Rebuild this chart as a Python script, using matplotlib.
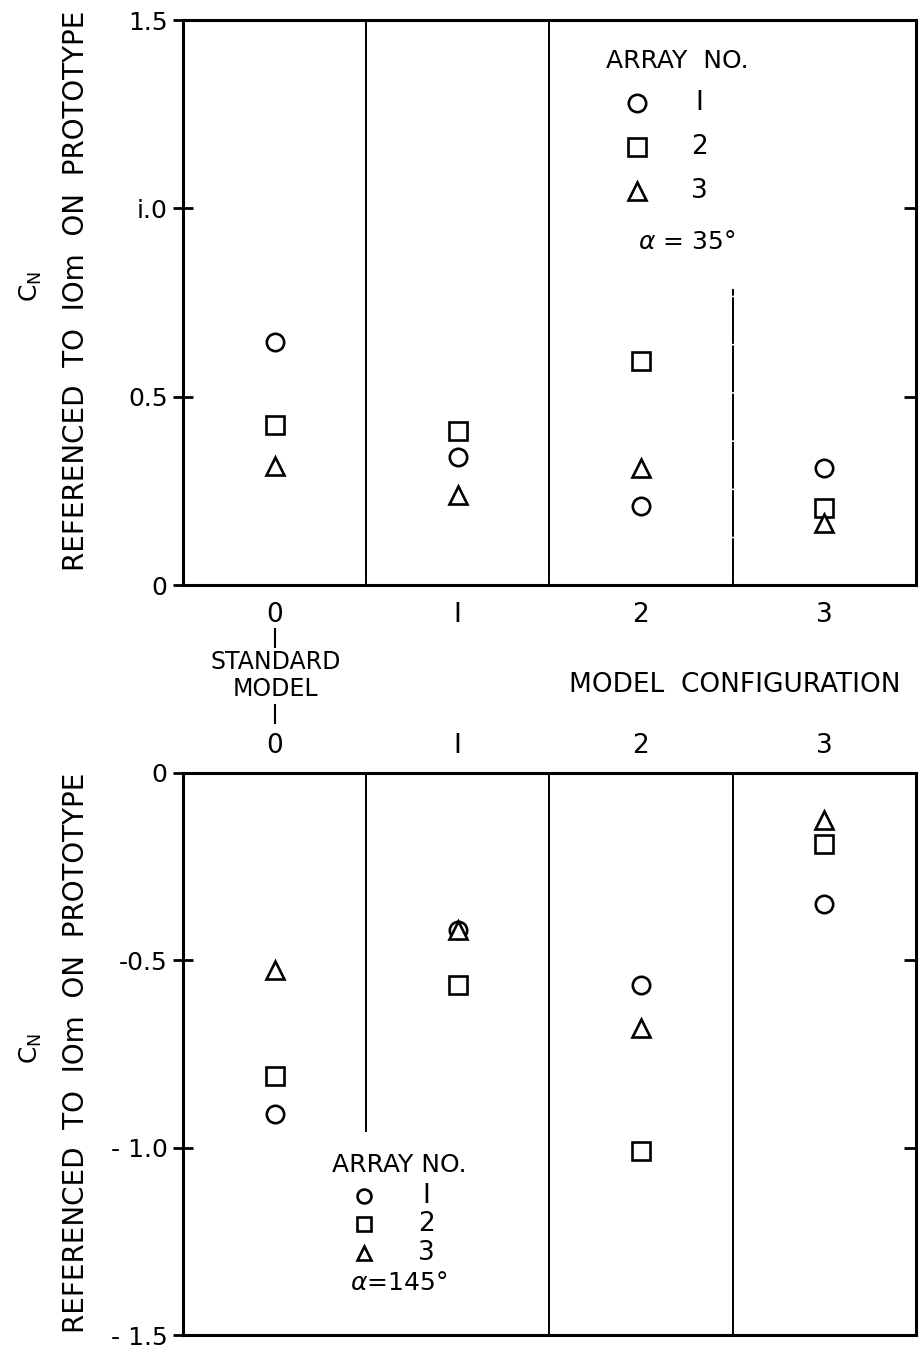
import numpy as np
import matplotlib.pyplot as plt
from matplotlib.lines import Line2D

# configurations and tick labels
configs = [0, 1, 2, 3]
config_labels = ["0", "I", "2", "3"]
array_labels = ["I", "2", "3"]

# C_N values, alpha = 35 deg (array 1, 2, 3)
cn35_a1 = [0.645, 0.34, 0.21, 0.31]
cn35_a2 = [0.425, 0.41, 0.595, 0.205]
cn35_a3 = [0.315, 0.24, 0.31, 0.165]

# C_N values, alpha = 145 deg
cn145_a1 = [-0.91, -0.42, -0.565, -0.35]
cn145_a2 = [-0.81, -0.565, -1.01, -0.19]
cn145_a3 = [-0.525, -0.42, -0.68, -0.125]

yt_top = [0, 0.5, 1.0, 1.5]
yt_top_lbl = ["0", "0.5", "i.0", "1.5"]
yt_bot = [0, -0.5, -1.0, -1.5]
yt_bot_lbl = ["0", "-0.5", "- 1.0", "- 1.5"]

plt.rcParams.update({
    "font.family": ["DejaVu Sans"],
    "axes.linewidth": 2.2,
})

markers = ["o", "s", "^"]
mk = dict(linestyle="none", markersize=12.5, markerfacecolor="white",
          markeredgecolor="black", markeredgewidth=1.9, zorder=5)

fig = plt.figure(figsize=(9.24, 13.53), dpi=100)
ax1 = fig.add_axes([0.198, 0.5676, 0.793, 0.4176])
ax2 = fig.add_axes([0.198, 0.0133, 0.793, 0.4154])

tick_fs = 18

def setup(ax, yt, ytl, ylim):
    ax.set_xlim(-0.5, 3.5)
    ax.set_ylim(*ylim)
    ax.set_yticks(yt)
    ax.set_yticklabels(ytl, fontsize=tick_fs)
    ax.tick_params(axis="y", direction="inout", length=14, width=2, pad=4)
    ax.tick_params(axis="x", length=0, labelsize=tick_fs + 1)
    sec = ax.secondary_yaxis("right")
    sec.set_yticks(yt[1:-1])
    sec.tick_params(direction="in", length=9, width=2, labelright=False)
    sec.spines["right"].set_visible(False)

# top panel
setup(ax1, yt_top, yt_top_lbl, (0, 1.5))
ax1.set_xticks(configs)
ax1.set_xticklabels(config_labels)
ax1.tick_params(axis="x", pad=12)
for xd in [0.5, 1.5]:
    ax1.axvline(xd, color="black", lw=1.4)
ax1.axvline(2.5, ymin=0, ymax=0.785 / 1.5, color="black", lw=1.4,
            linestyle=(0, (24, 0.8)))
for vals, m in zip([cn35_a1, cn35_a2, cn35_a3], markers):
    ax1.plot(configs, vals, marker=m, **mk)

# legend top
ax1.text(2.2, 1.39, "ARRAY  NO.", ha="center", va="center", fontsize=18)
for i, (m, lab) in enumerate(zip(markers, array_labels)):
    yy = 1.28 - i * 0.117
    ax1.plot([1.98], [yy], marker=m, **mk)
    ax1.text(2.32, yy, lab, ha="center", va="center", fontsize=19)
ax1.text(2.25, 0.91, r"$\alpha$ = 35°", ha="center", va="center", fontsize=18)

# bottom panel
setup(ax2, yt_bot, yt_bot_lbl, (-1.5, 0))
ax2.xaxis.tick_top()
ax2.set_xticks(configs)
ax2.set_xticklabels(config_labels)
ax2.tick_params(axis="x", pad=10)
ax2.axvline(0.5, ymin=(1.5 - 0.955) / 1.5, ymax=1, color="black", lw=1.4)
for xd in [1.5, 2.5]:
    ax2.axvline(xd, color="black", lw=1.4)
for vals, m in zip([cn145_a1, cn145_a2, cn145_a3], markers):
    ax2.plot(configs, vals, marker=m, **mk)

ax2.text(0.68, -1.045, "ARRAY NO.", ha="center", va="center", fontsize=18)
for i, (m, lab) in enumerate(zip(markers, array_labels)):
    yy = -1.13 - i * 0.075
    ax2.plot([0.49], [yy], marker=m, **dict(mk, markersize=10))
    ax2.text(0.83, yy, lab, ha="center", va="center", fontsize=19)
ax2.text(0.68, -1.36, r"$\alpha$=145°", ha="center", va="center", fontsize=18)

# y labels
for yc, ax in [(0.785, ax1), (0.222, ax2)]:
    fig.text(0.033, yc + 0.003, r"C$_\mathregular{N}$", rotation=90, ha="center",
             va="center", fontsize=18)
    fig.text(0.082, yc, "REFERENCED  TO  IOm  ON  PROTOTYPE",
             rotation=90, ha="center", va="center", fontsize=20)

# between-panel annotations
fig.text(0.298, 0.5008, "STANDARD\nMODEL", ha="center", va="center",
         fontsize=17, linespacing=1.15)
fig.text(0.795, 0.4935, "MODEL  CONFIGURATION", ha="center", va="center",
         fontsize=19)
fig.add_artist(Line2D([0.298, 0.298], [0.535, 0.522], color="black", lw=1.5))
fig.add_artist(Line2D([0.298, 0.298], [0.479, 0.466], color="black", lw=1.5))

fig.savefig("out.png", dpi=100)
